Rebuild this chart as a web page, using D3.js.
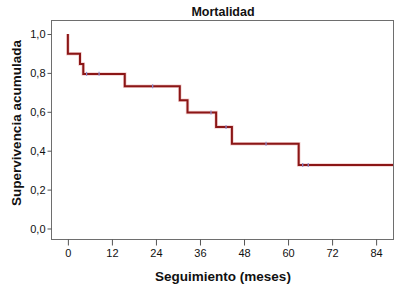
<!DOCTYPE html>
<html>
<head>
<meta charset="utf-8">
<script src="https://cdn.jsdelivr.net/npm/d3@7"></script>
<style>
  body { margin: 0; background: #fff; }
  svg { display: block; font-family: "Liberation Sans", Arial, sans-serif; }
  .axis-label { font-weight: bold; font-size: 13.5px; fill: #111; }
  .axis-title { font-weight: bold; font-size: 12.5px; fill: #111; }
  .tick text { font-size: 11px; fill: #111; }
</style>
</head>
<body>
<div id="chart"></div>
<script>
// Kaplan-Meier steps (months, cumulative survival)
var eventTimes  = [0, 0, 3.3, 4.2, 15.5, 30.5, 32.6, 40.4, 44.7, 62.9, 88.6];
var survival    = [1.0, 0.898, 0.846, 0.795, 0.731, 0.66, 0.597, 0.522, 0.436, 0.326, 0.326];

// censored cases (months, survival at that time)
var censorTimes = [5.1, 8.5, 23.1, 39.0, 43.1, 54.0, 64.0, 65.5];
var censorSurv  = [0.795, 0.795, 0.731, 0.597, 0.522, 0.436, 0.326, 0.326];

var xTicks = [0, 12, 24, 36, 48, 60, 72, 84];
var yTicks = [0, 0.2, 0.4, 0.6, 0.8, 1.0];

var margin = { top: 20, right: 12, bottom: 65, left: 51 };
var width = 405 - margin.left - margin.right,
    height = 304 - margin.top - margin.bottom;

var svg = d3.select('#chart')
            .append('svg')
            .attr('width', 405)
            .attr('height', 304)
            .append('g')
            .attr('transform', 'translate(' + margin.left + ',' + margin.top + ')');

var x = d3.scaleLinear()
          .domain([-4.6, 88.6])
          .range([0, width]);

var y = d3.scaleLinear()
          .domain([-0.054, 1.072])
          .range([height, 0]);

// frame
svg.append('rect')
   .attr('x', 0.5)
   .attr('y', 0.5)
   .attr('width', width)
   .attr('height', height)
   .attr('fill', 'none')
   .attr('stroke', '#6e6e6e')
   .attr('stroke-width', 1);

// axes
var xAxis = d3.axisBottom(x)
              .tickValues(xTicks)
              .tickSize(6)
              .tickSizeOuter(0)
              .tickPadding(4)
              .tickFormat(d3.format('d'));

var yAxis = d3.axisLeft(y)
              .tickValues(yTicks)
              .tickSize(4)
              .tickSizeOuter(0)
              .tickPadding(2)
              .tickFormat(function(d) { return d.toFixed(1).replace('.', ','); });

svg.append('g')
   .attr('class', 'x-axis axis')
   .attr('transform', 'translate(0,' + (height + 0.5) + ')')
   .call(xAxis);

svg.append('g')
   .attr('class', 'y-axis axis')
   .attr('transform', 'translate(0.5,0)')
   .call(yAxis);

svg.selectAll('.axis .domain').remove();
svg.selectAll('.axis .tick line').attr('stroke', '#555');

// labels
svg.append('text')
   .attr('class', 'axis-title')
   .attr('text-anchor', 'middle')
   .attr('x', width / 2 + 1)
   .attr('y', -4)
   .text('Mortalidad');

svg.append('text')
   .attr('class', 'axis-label')
   .attr('text-anchor', 'middle')
   .attr('x', width / 2 + 1)
   .attr('y', height + 42)
   .text('Seguimiento (meses)');

svg.append('text')
   .attr('class', 'axis-label')
   .attr('text-anchor', 'middle')
   .attr('transform', 'rotate(-90)')
   .attr('x', -103)
   .attr('y', -30)
   .text('Supervivencia acumulada');

// survival curve
var steps = eventTimes.map(function(t, i) { return { t: t, s: survival[i] }; });

var line = d3.line()
             .curve(d3.curveStepAfter)
             .x(function(d) { return x(d.t); })
             .y(function(d) { return y(d.s); });

svg.append('path')
   .datum(steps)
   .attr('fill', 'none')
   .attr('stroke', '#e8a0a0')
   .attr('stroke-width', 3.5)
   .attr('opacity', 0.5)
   .attr('d', line);

svg.append('path')
   .datum(steps)
   .attr('fill', 'none')
   .attr('stroke', '#8b1616')
   .attr('stroke-width', 2)
   .attr('d', line);

// censored marks
var censored = censorTimes.map(function(t, i) { return { t: t, s: censorSurv[i] }; });

svg.selectAll('.censor')
   .data(censored)
   .enter()
   .append('line')
   .attr('class', 'censor')
   .attr('x1', function(d) { return x(d.t); })
   .attr('x2', function(d) { return x(d.t); })
   .attr('y1', function(d) { return y(d.s) - 2; })
   .attr('y2', function(d) { return y(d.s) + 2; })
   .attr('stroke', '#8c8ccc')
   .attr('stroke-width', 1.2);
</script>
</body>
</html>
